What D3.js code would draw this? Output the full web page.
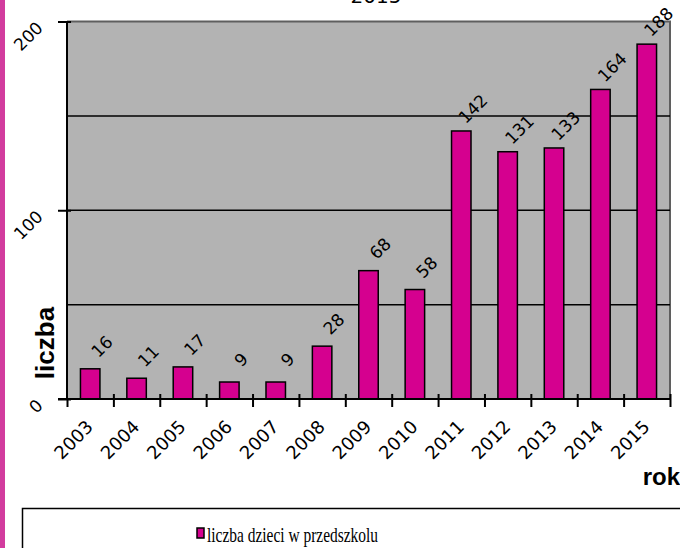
<!DOCTYPE html>
<html>
<head>
<meta charset="utf-8">
<script src="https://cdn.jsdelivr.net/npm/d3@7"></script>
<style>
  body { margin: 0; background: #fff; }
  svg { display: block; }
</style>
</head>
<body>
<div id="chart"></div>
<script>
// liczba dzieci w przedszkolu, per rok
var years = ["2003", "2004", "2005", "2006", "2007", "2008", "2009", "2010", "2011", "2012", "2013", "2014", "2015"];
var values = [16, 11, 17, 9, 9, 28, 68, 58, 142, 131, 133, 164, 188];
var yTicks = [0, 100, 200];
var gridLines = [50, 100, 150];
var seriesName = "liczba dzieci w przedszkolu";

var width = 680, height = 548;
var margin = { top: 21.5, right: 10, bottom: 149, left: 67 };
var barColor = "#d5008f";

var svg = d3.select("#chart").append("svg")
    .attr("width", width)
    .attr("height", height);

// pink strip at the left edge
svg.append("rect")
    .attr("x", 0).attr("y", 0)
    .attr("width", 5).attr("height", height)
    .attr("fill", "#d23c9e");

// title, mostly cut off at the top
svg.append("text")
    .attr("x", 376).attr("y", 3)
    .attr("text-anchor", "middle")
    .attr("font-family", "DejaVu Sans")
    .attr("font-size", 20)
    .text("2015");

var x = d3.scaleBand()
    .domain(years)
    .range([margin.left, width - margin.right])
    .paddingInner(0.58)
    .paddingOuter(0.29);

var xEdge = d3.scaleLinear()
    .domain([0, years.length])
    .range([margin.left, width - margin.right]);

var y = d3.scaleLinear()
    .domain([0, 200])
    .range([height - margin.bottom, margin.top]);

// plot background
svg.append("rect")
    .attr("x", margin.left).attr("y", margin.top)
    .attr("width", width - margin.right - margin.left)
    .attr("height", y(0) - margin.top)
    .attr("fill", "#b3b3b3");

// top and right border
svg.append("path")
    .attr("d", "M" + margin.left + "," + y(200) + "H" + (width - margin.right) + "V" + y(0))
    .attr("fill", "none")
    .attr("stroke", "#5f5f5f")
    .attr("stroke-width", 2);

// gridlines
svg.append("g")
    .selectAll("line")
    .data(gridLines)
    .join("line")
    .attr("x1", margin.left).attr("x2", width - margin.right)
    .attr("y1", d => y(d)).attr("y2", d => y(d))
    .attr("stroke", "#000")
    .attr("stroke-width", 1.5);

// bars
svg.append("g")
    .selectAll("rect")
    .data(values)
    .join("rect")
    .attr("x", (d, i) => x(years[i]))
    .attr("y", d => y(d))
    .attr("width", x.bandwidth())
    .attr("height", d => y(0) - y(d))
    .attr("fill", barColor)
    .attr("stroke", "#000")
    .attr("stroke-width", 1.5);

// value labels
svg.append("g")
    .selectAll("text")
    .data(values)
    .join("text")
    .attr("transform", (d, i) => "translate(" + (x(years[i]) + x.bandwidth() / 2 + 16) + "," + (y(d) - 18) + ") rotate(-45)")
    .attr("text-anchor", "middle")
    .attr("font-family", "DejaVu Sans")
    .attr("font-size", 17)
    .attr("fill", "#000")
    .text(d => d);

// x axis: tick marks at the category edges
var xTicks = svg.append("g")
    .attr("transform", "translate(0," + y(0) + ")")
    .call(d3.axisBottom(xEdge).tickValues(d3.range(0, years.length + 1)).tickSize(8).tickFormat(""));
xTicks.select(".domain").remove();
xTicks.selectAll(".tick line")
    .attr("y1", (d) => d === 0 ? 0 : -5)
    .attr("y2", 8)
    .attr("stroke", "#000")
    .attr("stroke-width", 2);

// x axis labels
var xLabels = svg.append("g")
    .attr("transform", "translate(0," + y(0) + ")")
    .call(d3.axisBottom(x).tickSize(0));
xLabels.select(".domain").remove();
xLabels.selectAll(".tick text")
    .attr("x", 0).attr("y", 0).attr("dy", 0)
    .attr("transform", "translate(4,29) rotate(-45)")
    .attr("text-anchor", "end")
    .attr("font-family", "DejaVu Sans")
    .attr("font-size", 18)
    .attr("fill", "#000");

// y axis
var yAxis = svg.append("g")
    .attr("transform", "translate(" + margin.left + ",0)")
    .call(d3.axisLeft(y).tickValues(yTicks).tickSize(9));
yAxis.select(".domain").remove();
yAxis.selectAll(".tick line")
    .attr("x1", 4)
    .attr("x2", -9)
    .attr("stroke", "#000")
    .attr("stroke-width", 2);
yAxis.selectAll(".tick text")
    .attr("x", 0).attr("dy", 0)
    .attr("transform", "translate(-23,7) rotate(-45)")
    .attr("text-anchor", "end")
    .attr("font-family", "DejaVu Sans")
    .attr("font-size", 17)
    .attr("fill", "#000");

// axis lines
svg.append("line")
    .attr("x1", margin.left).attr("x2", margin.left)
    .attr("y1", y(200)).attr("y2", y(0))
    .attr("stroke", "#000").attr("stroke-width", 2);
svg.append("line")
    .attr("x1", margin.left - 9).attr("x2", width - margin.right)
    .attr("y1", y(0)).attr("y2", y(0))
    .attr("stroke", "#000").attr("stroke-width", 2);

// axis titles
svg.append("text")
    .attr("transform", "translate(54,343) rotate(-90)")
    .attr("text-anchor", "middle")
    .attr("font-family", "Liberation Sans")
    .attr("font-weight", "bold")
    .attr("font-size", 26)
    .text("liczba");

svg.append("text")
    .attr("x", 680).attr("y", 485)
    .attr("text-anchor", "end")
    .attr("font-family", "Liberation Sans")
    .attr("font-weight", "bold")
    .attr("font-size", 24)
    .text("rok");

// legend
svg.append("rect")
    .attr("x", 22.5).attr("y", 508.5)
    .attr("width", 700).attr("height", 60)
    .attr("fill", "#fff")
    .attr("stroke", "#000")
    .attr("stroke-width", 1.5);

var legend = svg.append("g");
legend.append("rect")
    .attr("x", 197).attr("y", 528)
    .attr("width", 7).attr("height", 10)
    .attr("fill", barColor)
    .attr("stroke", "#000")
    .attr("stroke-width", 1.5);
legend.append("text")
    .attr("x", 207).attr("y", 542)
    .attr("font-family", "Liberation Serif")
    .attr("font-size", 21)
    .attr("textLength", 171)
    .attr("lengthAdjust", "spacingAndGlyphs")
    .text(seriesName);
</script>
</body>
</html>
